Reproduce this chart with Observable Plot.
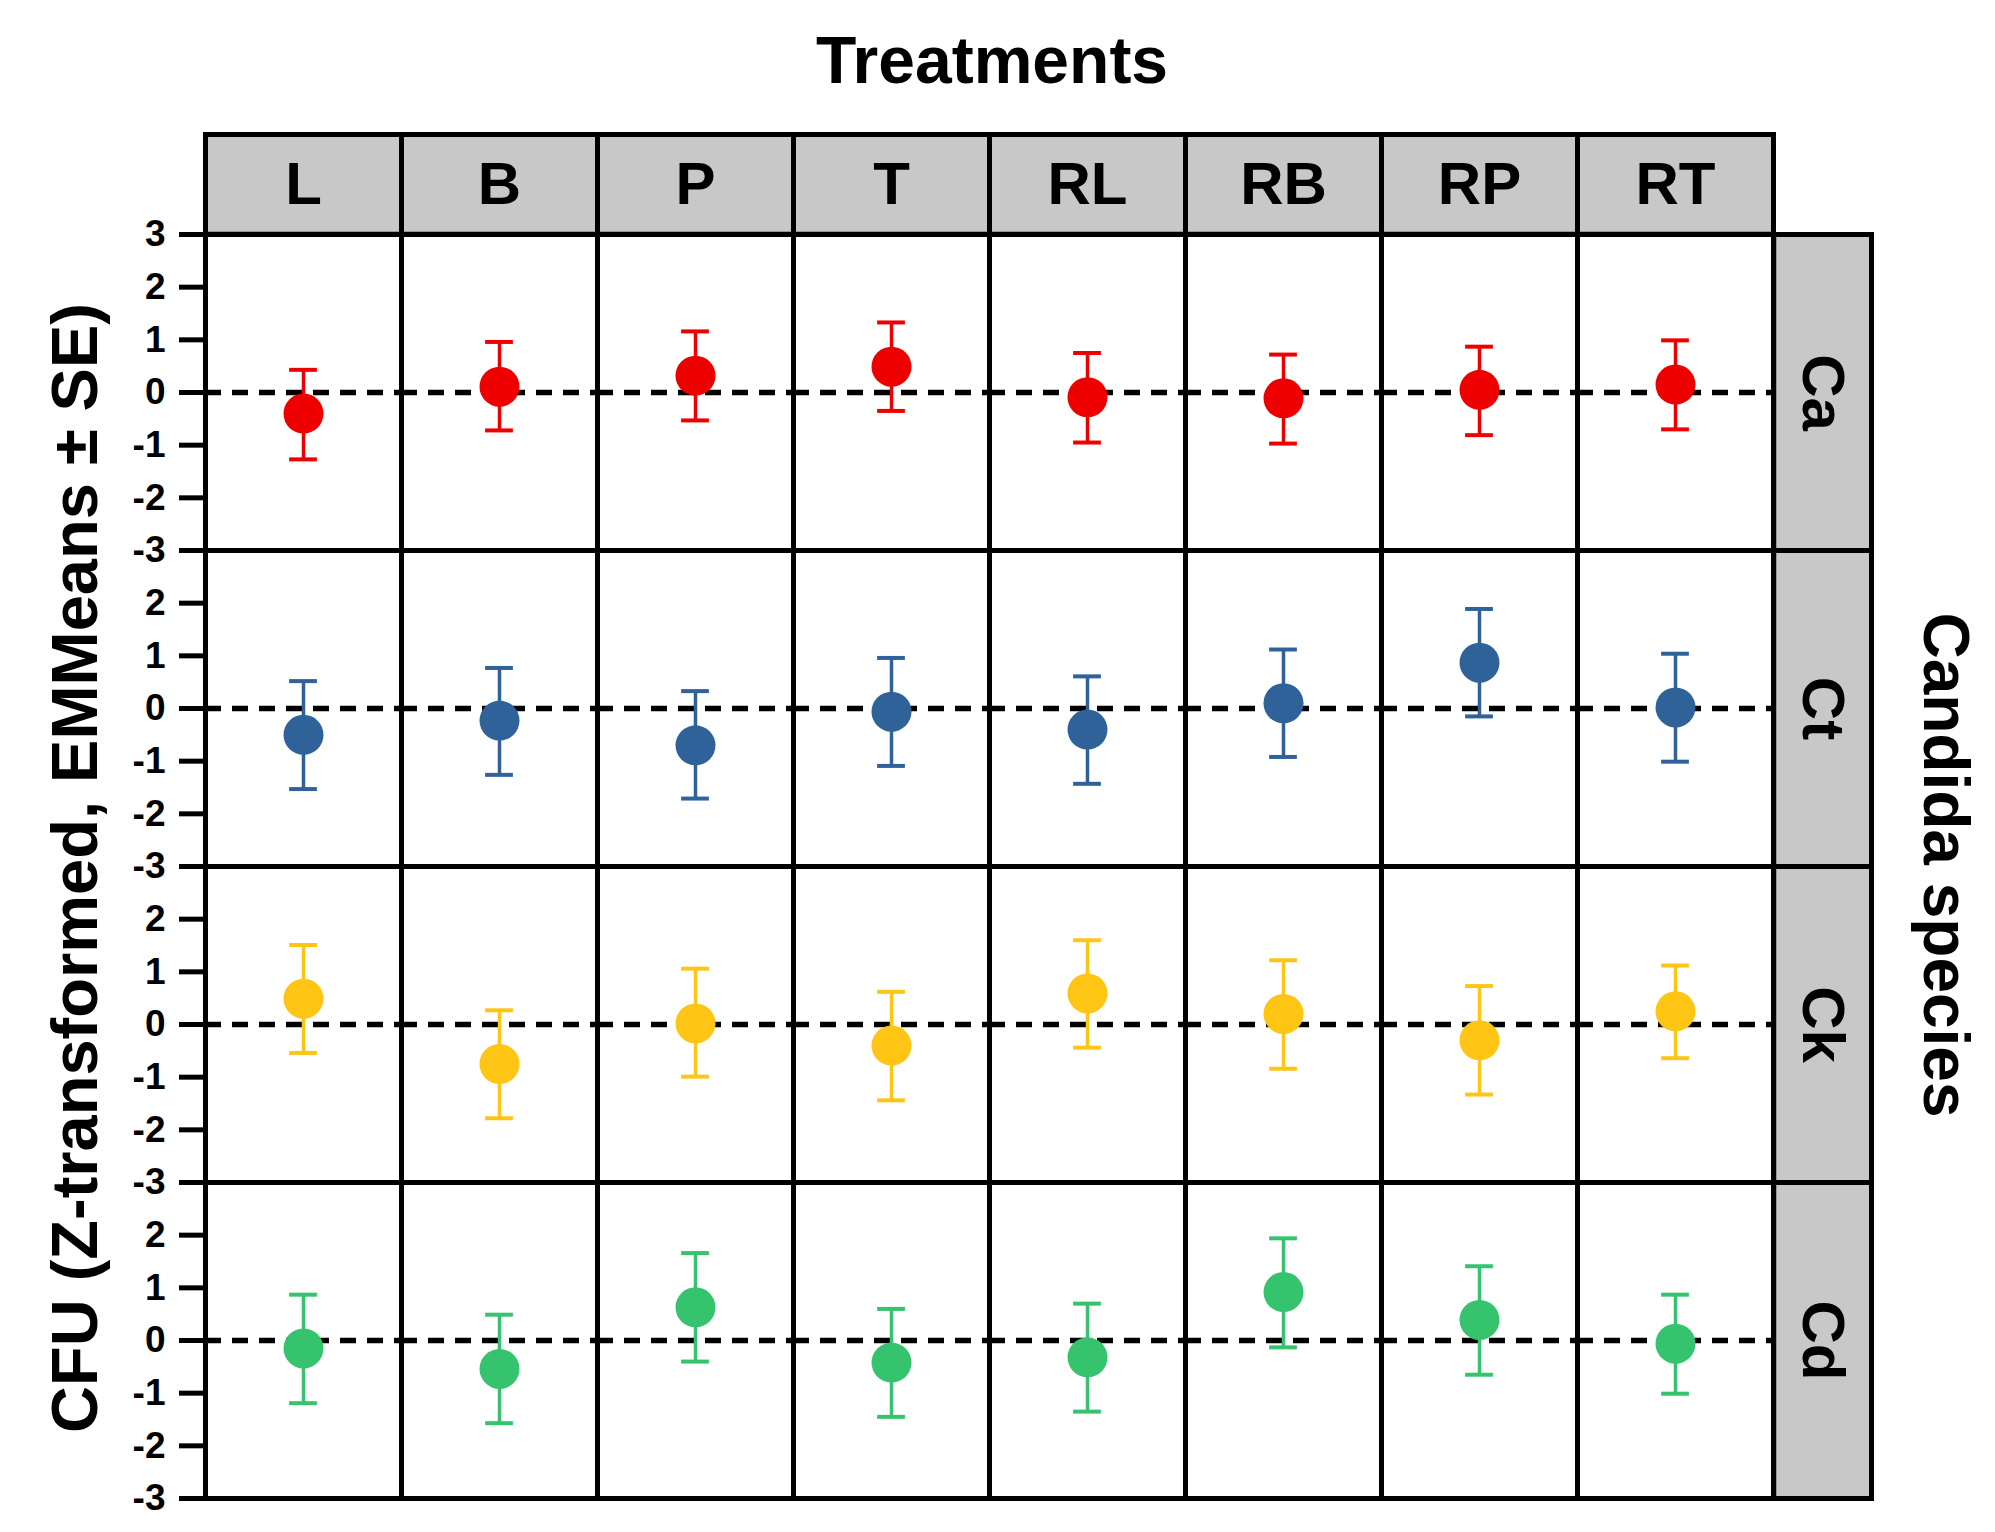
<!DOCTYPE html>
<html>
<head>
<meta charset="utf-8">
<script src="https://cdn.jsdelivr.net/npm/d3@7"></script>
<script src="https://cdn.jsdelivr.net/npm/@observablehq/plot@0.6"></script>
<style>
  body { margin: 0; background: #fff; }
  #wrap { position: relative; width: 1995px; height: 1532px; font-family: 'Liberation Sans', Arial, sans-serif; font-weight: bold; color: #000; background: #fff; }
  #title { position: absolute; z-index: 2; left: 992px; top: 60px; transform: translate(-50%, -50%); font-size: 66px; line-height: 1; white-space: nowrap; }
  #ylab { position: absolute; z-index: 2; left: 74px; top: 868px; transform: translate(-50%, -50%) rotate(-90deg); font-size: 65px; line-height: 1; white-space: nowrap; }
  #rlab { position: absolute; z-index: 2; left: 1946px; top: 865px; transform: translate(-50%, -50%) rotate(90deg); font-size: 64px; line-height: 1; white-space: nowrap; }
  #chart { position: absolute; z-index: 1; left: 0; top: 100px; }
</style>
</head>
<body>
<div id="wrap">
  <div id="chart"></div>
  <div id="title">Treatments</div>
  <div id="ylab">CFU (Z-transformed, EMMeans ± SE)</div>
  <div id="rlab">Candida species</div>
</div>
<script>
// ---- data ----
const treatments = ["L", "B", "P", "T", "RL", "RB", "RP", "RT"];
const species = ["Ca", "Ct", "Ck", "Cd"];
const speciesColors = ["#ee0000", "#2f6299", "#ffc515", "#36c36e"];
const yTicks = [-3, -2, -1, 0, 1, 2, 3];

const caMean  = [-0.40, 0.11, 0.32, 0.49, -0.09, -0.11, 0.05, 0.15];
const caLower = [-1.27, -0.72, -0.53, -0.35, -0.95, -0.97, -0.81, -0.70];
const caUpper = [0.43, 0.96, 1.16, 1.33, 0.75, 0.72, 0.87, 0.99];

const ctMean  = [-0.50, -0.23, -0.70, -0.06, -0.40, 0.10, 0.87, 0.02];
const ctLower = [-1.53, -1.26, -1.71, -1.09, -1.43, -0.92, -0.15, -1.01];
const ctUpper = [0.52, 0.77, 0.33, 0.96, 0.61, 1.12, 1.89, 1.04];

const ckMean  = [0.49, -0.75, 0.02, -0.40, 0.59, 0.20, -0.30, 0.25];
const ckLower = [-0.54, -1.78, -0.99, -1.44, -0.44, -0.84, -1.33, -0.64];
const ckUpper = [1.51, 0.27, 1.06, 0.62, 1.60, 1.22, 0.73, 1.12];

const cdMean  = [-0.15, -0.54, 0.63, -0.42, -0.32, 0.92, 0.39, -0.06];
const cdLower = [-1.19, -1.57, -0.40, -1.45, -1.35, -0.13, -0.65, -1.01];
const cdUpper = [0.87, 0.49, 1.66, 0.60, 0.70, 1.94, 1.41, 0.87];

// ---- table built from the arrays ----
const means = [caMean, ctMean, ckMean, cdMean];
const lowers = [caLower, ctLower, ckLower, cdLower];
const uppers = [caUpper, ctUpper, ckUpper, cdUpper];
const rows = species.flatMap((s, si) => treatments.map((t, ti) => ({
  species: s, treatment: t, mean: means[si][ti], lower: lowers[si][ti], upper: uppers[si][ti]
})));

// ---- layout ----
const W = 1995, H = 1432, mT = 133, mB = 34, mL = 204, mR = 221;
const colW = (W - mL - mR) / treatments.length;
const rowH = (H - mT - mB) / species.length;
const stripH = 100, stripW = 98, capW = 28;
const capInset = (colW - capW) / 2;
const firstS = species[0], lastT = treatments[treatments.length - 1];
const lineW = 5;

const axisOpts = {
  tickSize: 26, tickPadding: 14, strokeWidth: lineW, fontSize: 37, fontWeight: "bold",
  fontFamily: "'Liberation Sans Narrow', 'Liberation Sans', Arial, sans-serif",
  tickFormat: d => String(d), label: null, stroke: "black", fill: "black"
};

const chart = Plot.plot({
  width: W, height: H,
  marginTop: mT, marginBottom: mB, marginLeft: mL, marginRight: mR,
  fx: {domain: treatments, padding: 0, axis: null},
  fy: {domain: species, padding: 0, axis: null},
  x: {domain: [-1, 1], axis: null},
  y: {domain: [-3, 3], axis: null},
  color: {domain: species, range: speciesColors},
  style: {fontFamily: "'Liberation Sans', Arial, sans-serif", fontWeight: "bold", color: "black", background: "transparent", overflow: "visible"},
  marks: [
    // header strips (treatments)
    Plot.frame({facetAnchor: "top", fill: "#c8c8c8", stroke: "black", strokeWidth: lineW, insetTop: -stripH, insetBottom: rowH}),
    // row strips (species)
    Plot.frame({facetAnchor: "right", fill: "#c8c8c8", stroke: "black", strokeWidth: lineW, insetLeft: colW, insetRight: -stripW}),
    // panel borders
    Plot.frame({stroke: "black", strokeWidth: lineW}),
    // zero line
    Plot.ruleY([0], {stroke: "black", strokeWidth: 5.5, strokeDasharray: "16,11"}),
    // error bars
    Plot.ruleX(rows, {x: () => 0, y1: "lower", y2: "upper", fx: "treatment", fy: "species", stroke: "species", strokeWidth: 3.5}),
    Plot.ruleY(rows, {y: "upper", fx: "treatment", fy: "species", stroke: "species", strokeWidth: 4, insetLeft: capInset, insetRight: capInset}),
    Plot.ruleY(rows, {y: "lower", fx: "treatment", fy: "species", stroke: "species", strokeWidth: 4, insetLeft: capInset, insetRight: capInset}),
    // means
    Plot.dot(rows, {x: () => 0, y: "mean", fx: "treatment", fy: "species", r: 20, fill: "species", stroke: null}),
    // strip labels
    Plot.text(treatments, {fx: d => d, fy: () => firstS, text: d => d, frameAnchor: "top", dy: -stripH / 2, fontSize: 60, fontWeight: "bold", textAnchor: "middle", lineAnchor: "middle", fill: "black"}),
    Plot.text(species, {fy: d => d, fx: () => lastT, text: d => d, frameAnchor: "right", dx: stripW / 2, rotate: 90, fontSize: 60, fontWeight: "bold", textAnchor: "middle", lineAnchor: "middle", fill: "black"}),
    // y axes
    Plot.axisY({...axisOpts, ticks: yTicks.filter(v => v < 3)}),
    Plot.axisY({...axisOpts, ticks: yTicks.filter(v => v === 3), facetAnchor: "top-left"})
  ]
});
document.getElementById("chart").appendChild(chart);
</script>
</body>
</html>
